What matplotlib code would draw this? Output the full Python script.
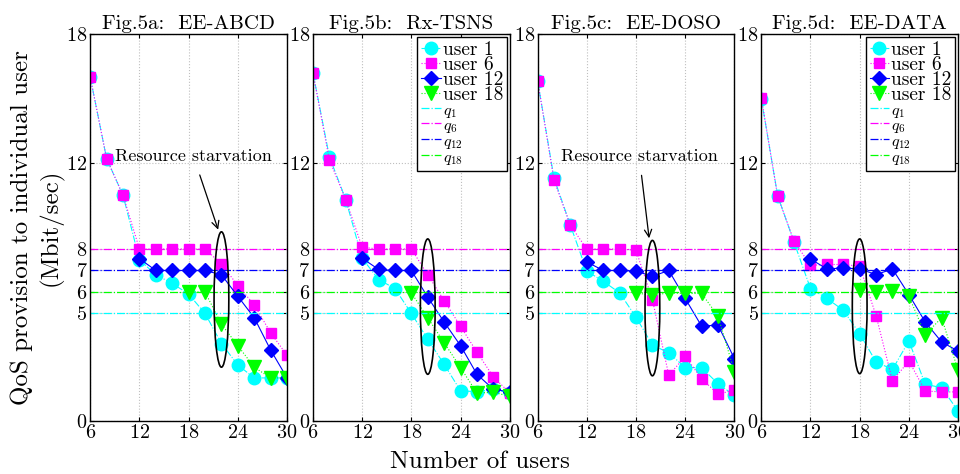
import numpy as np
import matplotlib
matplotlib.use("Agg")
import matplotlib.pyplot as plt
from matplotlib.patches import Ellipse

plt.rcParams["font.family"] = "serif"
plt.rcParams["font.serif"] = ["cmr10"]
plt.rcParams["mathtext.fontset"] = "cm"
plt.rcParams["axes.unicode_minus"] = False
plt.rcParams["axes.formatter.use_mathtext"] = True

nan = np.nan
num_users = [6, 8, 10, 12, 14, 16, 18, 20, 22, 24, 26, 28, 30]

titles = ["Fig.5a:  EE-ABCD", "Fig.5b:  Rx-TSNS", "Fig.5c:  EE-DOSO", "Fig.5d:  EE-DATA"]

# QoS thresholds (Mbit/sec)
q1, q6, q12, q18 = 5, 8, 7, 6

# Fig.5a EE-ABCD
a_user1 = [16.0, 12.2, 10.5, 7.5, 6.8, 6.4, 5.9, 5.0, 3.6, 2.6, 2.0, 2.0, 2.0]
a_user6 = [16.0, 12.2, 10.5, 8.0, 8.0, 8.0, 8.0, 8.0, 7.3, 6.3, 5.4, 4.1, 3.05]
a_user12 = [nan, nan, nan, 7.55, 7.0, 7.0, 7.0, 7.0, 6.8, 5.8, 4.8, 3.3, 2.0]
a_user18 = [nan, nan, nan, nan, nan, nan, 6.0, 6.0, 4.5, 3.5, 2.5, 2.0, 2.0]

# Fig.5b Rx-TSNS
b_user1 = [16.2, 12.3, 10.3, 7.57, 6.58, 6.16, 5.0, 3.8, 2.63, 1.4, 1.36, 1.47, 1.3]
b_user6 = [16.2, 12.15, 10.3, 8.08, 8.0, 8.0, 8.0, 6.8, 5.6, 4.4, 3.2, 2.05, 1.3]
b_user12 = [nan, nan, nan, 7.57, 7.05, 7.0, 7.0, 5.76, 4.6, 3.5, 2.17, 1.47, 1.35]
b_user18 = [nan, nan, nan, nan, nan, nan, 5.96, 4.8, 3.64, 2.48, 1.3, 1.33, 1.15]

# Fig.5c EE-DOSO
c_user1 = [15.84, 11.3, 9.1, 6.97, 6.5, 5.96, 4.83, 3.53, 3.17, 2.48, 2.48, 1.73, 1.19]
c_user6 = [15.84, 11.2, 9.1, 8.0, 8.0, 8.0, 7.94, 5.65, 2.12, 3.0, 1.97, 1.24, 1.44]
c_user12 = [nan, nan, nan, 7.4, 7.0, 7.0, 6.97, 6.73, 7.0, 5.7, 4.41, 4.46, 2.9]
c_user18 = [nan, nan, nan, nan, nan, nan, 5.96, 5.84, 5.96, 5.93, 5.93, 4.88, 2.29]

# Fig.5d EE-DATA
d_user1 = [15.0, 10.48, 8.31, 6.16, 5.7, 5.15, 4.06, 2.74, 2.4, 3.72, 1.7, 1.55, 0.46]
d_user6 = [15.05, 10.45, 8.36, 7.24, 7.28, 7.28, 7.2, 4.9, 1.86, 2.79, 1.39, 1.35, 1.35]
d_user12 = [nan, nan, nan, 7.54, 7.07, 7.12, 7.07, 6.81, 7.07, 5.88, 4.6, 3.67, 3.25]
d_user18 = [nan, nan, nan, nan, nan, nan, 6.07, 5.99, 6.04, 5.8, 4.02, 4.8, 2.35]

panels = [
    (a_user1, a_user6, a_user12, a_user18),
    (b_user1, b_user6, b_user12, b_user18),
    (c_user1, c_user6, c_user12, c_user18),
    (d_user1, d_user6, d_user12, d_user18),
]

# Number of users at which starvation begins, and span of the highlighted region
starvation_x = [22, 20, 20, 18]
starvation_span = [(2.5, 8.8), (2.17, 8.47), (2.1, 8.4), (2.2, 8.47)]

fig = plt.figure(figsize=(9.6, 4.74), dpi=100)
lefts = [0.094, 0.326, 0.560, 0.793]
width = 0.205
bottom, height = 0.112, 0.816

for i, (u1, u6, u12, u18) in enumerate(panels):
    ax = fig.add_axes([lefts[i], bottom, width, height])
    ax.plot(num_users, u1, color="cyan", ls="-.", lw=0.8, marker="o", ms=9,
            mec="cyan", label="user 1")
    ax.plot(num_users, u6, color="magenta", ls=":", lw=0.8, marker="s", ms=7.5,
            mec="magenta", label="user 6")
    ax.plot(num_users, u12, color="blue", ls="-", lw=0.8, marker="D", ms=7.5,
            mec="blue", label="user 12")
    ax.plot(num_users, u18, color="lime", ls=":", lw=0.8, marker="v", ms=10,
            mec="lime", label="user 18")
    ax.axhline(q1, color="cyan", ls="-.", lw=0.9, label="$q_1$")
    ax.axhline(q6, color="magenta", ls="-.", lw=0.9, label="$q_6$")
    ax.axhline(q12, color="blue", ls="-.", lw=0.9, label="$q_{12}$")
    ax.axhline(q18, color="lime", ls="-.", lw=0.9, label="$q_{18}$")

    lo, hi = starvation_span[i]
    ax.add_patch(Ellipse((starvation_x[i], (lo + hi) / 2), 1.8, hi - lo,
                         fill=False, ec="black", lw=1.2, zorder=5))

    ax.set_xlim(6, 30)
    ax.set_ylim(0, 18)
    ax.set_xticks([6, 12, 18, 24, 30])
    ax.set_yticks([0, 5, 6, 7, 8, 12, 18])
    ax.grid(True, ls=":", color="0.75", lw=0.8)
    ax.tick_params(direction="in", top=True, right=True, labelsize=14.5, length=3, pad=2)
    for sp in ax.spines.values():
        sp.set_linewidth(1.0)
    ax.set_title(titles[i], fontsize=15, pad=4)

    if i in (0, 2):
        tx = 18.6 if i == 0 else 18.4
        ax.annotate("Resource starvation", xy=(starvation_x[i] - 0.4, hi + 0.1),
                    xytext=(tx, 12.3), ha="center", va="center", fontsize=13,
                    arrowprops=dict(arrowstyle="->", color="black", lw=0.9,
                                    shrinkA=6, shrinkB=0))
    if i in (1, 3):
        leg = ax.legend(loc="upper right", fontsize=14, handlelength=1.0,
                        handletextpad=0.1, labelspacing=-0.15, borderpad=0.2,
                        borderaxespad=0.15, fancybox=False, framealpha=1,
                        edgecolor="black")
        leg.get_frame().set_linewidth(1.0)
        for t in leg.get_texts()[4:]:
            t.set_fontsize(11.5)

fig.text(0.039, 0.52, "QoS provision to individual user\n(Mbit/sec)", rotation=90,
         ha="center", va="center", fontsize=18, linespacing=1.3)
fig.text(0.5, 0.025, "Number of users", ha="center", va="center", fontsize=18)

fig.savefig("out.png", dpi=100)
